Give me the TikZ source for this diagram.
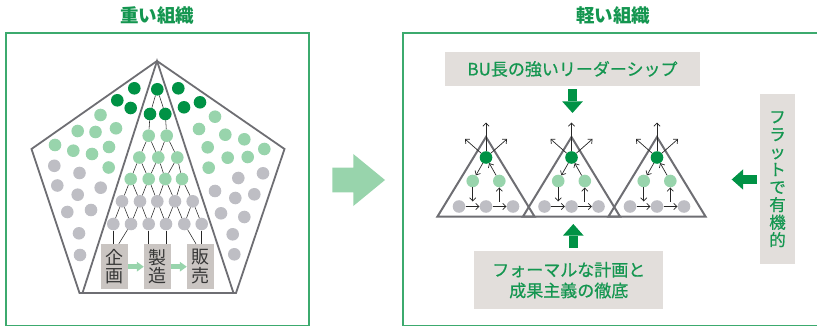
\documentclass[tikz,border=0pt]{standalone}
\usepackage{fontspec}
\newfontfamily\jp{Noto Sans CJK JP}
\newfontfamily\jpm[FakeBold=0.6]{Noto Sans CJK JP}
\usetikzlibrary{arrows.meta,calc}
\definecolor{dgreen}{RGB}{0,146,69}
\definecolor{lgreen}{RGB}{152,212,172}
\definecolor{dotgray}{RGB}{190,190,196}
\definecolor{tgreen}{RGB}{20,150,80}
\definecolor{framegreen}{RGB}{60,170,110}
\definecolor{edgegray}{RGB}{110,110,115}
\definecolor{boxfill}{RGB}{226,222,219}
\definecolor{pboxfill}{RGB}{202,197,194}
\definecolor{ptext}{RGB}{55,55,55}
\begin{document}
\begin{tikzpicture}[x=1pt,y=-1pt,
 dotnode/.style={circle,minimum size=12.6pt,inner sep=0pt,draw=none},
 dg/.style={dotnode,fill=dgreen},
 lg/.style={dotnode,fill=lgreen},
 gy/.style={dotnode,fill=dotgray},
 tline/.style={draw=black!85,line width=0.55pt},
 pentline/.style={draw=edgegray,line width=1.8pt},
 framebox/.style={draw=framegreen,line width=1.2pt},
 titletext/.style={font=\jp\bfseries\fontsize{18.5}{20}\selectfont,text=tgreen},
 pbox/.style={fill=pboxfill,minimum width=26.7pt,minimum height=45.3pt,inner sep=0pt,align=center,font=\jp\fontsize{18}{18.4}\selectfont,text=ptext},
 gbox/.style={fill=boxfill,inner sep=0pt,text=tgreen,align=center},
 garrow/.style={draw=lgreen,line width=4.6pt,-{Triangle[length=7pt,width=10pt,line width=0pt]}},
 barrow/.style={draw=dgreen,line width=9.3pt,-{Triangle[length=11.5pt,width=20.5pt,line width=0pt]}},
 sarrow/.style={draw=black!85,line width=0.7pt,-{Straight Barb[length=3.3pt,width=6.2pt]}},
 tri/.style={draw=edgegray,line width=2pt},
]
\useasboundingbox (0,0) rectangle (817,326);
% frames and titles
\draw[framebox] (6,33) rectangle (309,325.5);
\draw[framebox] (403,33) rectangle (850,325.5);
\node[titletext] (tleft) at (157,16) {重い組織};
\node[titletext] (tright) at (613.3,16) {軽い組織};
% pentagon
\draw[pentline] (157,61) -- (284.5,149) -- (236,293) -- (79.5,293) -- (31.5,149) -- cycle;
\draw[pentline] (82.5,293) -- (157,61) -- (233.5,293);
% side dots left
\foreach \x/\y [count=\i] in {134.3/88.3,117.3/100.3,130.7/108}
  \node[dg] (ldk\i) at (\x,\y) {};
\foreach \x/\y [count=\i] in {100.5/115,77.7/131,95.5/132,116/128.3,55/145,73.3/150.7,92/154,109/147,108.7/167.5}
  \node[lg] (llt\i) at (\x,\y) {};
\foreach \x/\y [count=\i] in {54.3/165.8,79.5/173,57.3/185.5,77.7/194.7,100.7/187.7,67.3/212,91/210,79/233.3,80/255}
  \node[gy] (lgy\i) at (\x,\y) {};
% side dots right
\foreach \x/\y [count=\i] in {178.3/88.3,184/107.3,200/102.3}
  \node[dg] (rdk\i) at (\x,\y) {};
\foreach \x/\y [count=\i] in {215/116.7,199/129,225.3/134.7,244.3/139.3,264.3/149,207.7/147.3,227.7/157.7,247.7/157,208.7/167.7}
  \node[lg] (rlt\i) at (\x,\y) {};
\foreach \x/\y [count=\i] in {263/173.3,238.3/178,215/191,235.3/198,254.3/194.3,221/213.3,244.3/217,232.7/234.3,234.3/254.3}
  \node[gy] (rgy\i) at (\x,\y) {};
% central tree
\node[dg] (ra1) at (157.3,89.3) {};
\foreach \x [count=\i] in {150,165.3} \node[dg] (rb\i) at (\x,114) {};
\foreach \x [count=\i] in {148.7,166.7} \node[lg] (rc\i) at (\x,135.7) {};
\foreach \x [count=\i] in {139.3,158.3,177.3} \node[lg] (rd\i) at (\x,157.5) {};
\foreach \x [count=\i] in {130.7,148.7,165.3,182} \node[lg] (re\i) at (\x,179) {};
\foreach \x [count=\i] in {122,140,157.3,175,192.7} \node[gy] (rf\i) at (\x,201.3) {};
\foreach \x [count=\i] in {113.3,131,148.7,166,184.3,201.7} \node[gy] (rg\i) at (\x,224) {};
\draw[tline] (ra1) -- (rb1) (ra1) -- (rb2) (rb1) -- (rc1) (rb2) -- (rc2)
  (rc1) -- (rd1) (rc1) -- (rd2) (rc2) -- (rd2) (rc2) -- (rd3);
\foreach \i in {1,2,3}{\pgfmathtruncatemacro\j{\i+1}\draw[tline] (rd\i) -- (re\i) (rd\i) -- (re\j);}
\foreach \i in {1,2,3,4}{\pgfmathtruncatemacro\j{\i+1}\draw[tline] (re\i) -- (rf\i) (re\i) -- (rf\j);}
\foreach \i in {1,2,3,4,5}{\pgfmathtruncatemacro\j{\i+1}\draw[tline] (rf\i) -- (rg\i) (rf\i) -- (rg\j);}
% process boxes
\node[pbox] (b1) at (114.3,266.7) {企\\画};
\node[pbox] (b2) at (157.3,266.7) {製\\造};
\node[pbox] (b3) at (200.3,266.7) {販\\売};
\draw[tline] (rg1) -- (rg1 |- b1.north);
\draw[tline] (rg2) -- ([xshift=4.5pt]b1.north);
\draw[tline] (rg3) -- (rg3 |- b2.north);
\draw[tline] (rg4) -- (rg4 |- b2.north);
\draw[tline] (rg5) -- ([xshift=-4.3pt]b3.north);
\draw[tline] (rg6) -- (rg6 |- b3.north);
\draw[garrow] (b1.east) -- (b2.west);
\draw[garrow] (b2.east) -- (b3.west);
% big middle arrow
\fill[lgreen] (332.3,167.7) -- (353.3,167.7) -- (353.3,154) -- (385,180) -- (353.3,206) -- (353.3,192.3) -- (332.3,192.3) -- cycle;
% right side boxes
\node[gbox,minimum width=255pt,minimum height=34pt,font=\jpm\fontsize{17}{20}\selectfont] (bu) at (572.5,69) {BU長の強いリーダーシップ};
\node[gbox,minimum width=189pt,minimum height=58.3pt,font=\jpm\fontsize{17}{20.7}\selectfont] (formal) at (568.8,280.2) {フォーマルな計画と\\成果主義の徹底};
\node[gbox,minimum width=35pt,minimum height=170.3pt,font=\jpm\fontsize{16.5}{17.6}\selectfont] (flat) at (777.5,179.2) {フ\\ラ\\ッ\\ト\\で\\有\\機\\的};
\coordinate (butip) at (572.5,113);
\draw[barrow,shorten <=3pt] (bu.south) -- (butip);
\coordinate (ftip) at (573.3,224);
\coordinate (fbase) at (formal.north -| ftip);
\draw[barrow,shorten <=2.7pt] (fbase) -- (ftip);
\coordinate (ltip) at (731.7,179.5);
\coordinate (lbase) at (flat.west |- ltip);
\draw[barrow,shorten <=3pt] (lbase) -- (ltip);
% triangles
\foreach \cx [count=\k] in {486,571.5,657}{
  \draw[tri] (\cx,137) -- (\cx-48.5,216.5) -- (\cx+48.5,216.5) -- cycle;
  \node[dg] (d\k) at (\cx,157.5) {};
  \node[lg] (l\k) at (\cx-13.3,181) {};
  \node[lg] (r\k) at (\cx+13.3,181) {};
  \node[gy] (ga\k) at (\cx-27,206.5) {};
  \node[gy] (gb\k) at (\cx,206.5) {};
  \node[gy] (gc\k) at (\cx+27,206.5) {};
  \draw[sarrow] (d\k) -- ++(0,-35);
  \draw[sarrow] (d\k) -- ++(-21,-18.5);
  \draw[sarrow] (d\k) -- ++(21,-18.5);
  \draw[sarrow] (d\k) -- (l\k);
  \draw[sarrow] (r\k) -- (d\k);
  \draw[sarrow] (l\k) -- ++(0,20.5);
  \draw[sarrow] ($(r\k)+(0,20.5)$) -- (r\k);
  \draw[sarrow] (ga\k) -- (gb\k);
  \draw[sarrow] (gb\k) -- (gc\k);
}
\end{tikzpicture}
\end{document}
